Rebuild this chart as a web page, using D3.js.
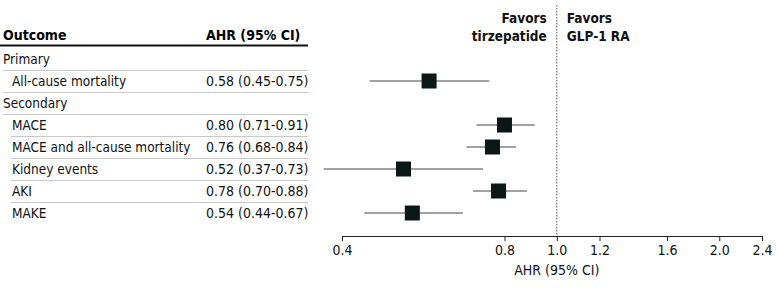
<!DOCTYPE html>
<html>
<head>
<meta charset="utf-8">
<script src="https://cdn.jsdelivr.net/npm/d3@7"></script>
<style>
  body { margin: 0; background: #fff; }
  svg { display: block; font-family: "DejaVu Sans Condensed", "Liberation Sans", sans-serif; }
</style>
</head>
<body>
<div id="chart"></div>
<script>
// rows of the table, top to bottom
const labels = ['Primary', 'All-cause mortality', 'Secondary', 'MACE', 'MACE and all-cause mortality', 'Kidney events', 'AKI', 'MAKE'];
const isGroup = [true, false, true, false, false, false, false, false];
const ahr = [null, 0.58, null, 0.80, 0.76, 0.52, 0.78, 0.54];
const lower = [null, 0.45, null, 0.71, 0.68, 0.37, 0.70, 0.44];
const upper = [null, 0.75, null, 0.91, 0.84, 0.73, 0.88, 0.67];
const ticks = [0.4, 0.8, 1.0, 1.2, 1.6, 2.0, 2.4];

const width = 780, height = 297;
const fmt = d3.format('.2f');
const fs = '14px';

const svg = d3.select('#chart').append('svg')
    .attr('width', width).attr('height', height);

const rowH = 22;
const y0 = 59; // centre of first row
const yRow = (i) => y0 + i * rowH;

const x = d3.scaleLog().domain([0.4, 2.4]).range([342, 762]);
const axisY = 236;

// table header
svg.append('text').attr('x', 3).attr('y', 35).attr('dy', '0.35em')
    .style('font-size', fs).style('font-weight', 'bold').text('Outcome');
svg.append('text').attr('x', 206).attr('y', 35).attr('dy', '0.35em')
    .style('font-size', fs).style('font-weight', 'bold').text('AHR (95% CI)');
svg.append('line').attr('x1', 0).attr('x2', 308).attr('y1', 45.5).attr('y2', 45.5)
    .attr('stroke', '#111').attr('stroke-width', 1.8);

// row separators
labels.slice(0, -1).forEach((_, i) => {
    const ind = i < 3 ? 3 : 11;
    svg.append('line').attr('x1', ind).attr('x2', 308)
        .attr('y1', yRow(i) + 11.5).attr('y2', yRow(i) + 11.5)
        .attr('stroke', '#c8c8c8').attr('stroke-width', 1);
});

// row texts
svg.selectAll('text.lab').data(labels).enter().append('text')
    .attr('class', 'lab')
    .attr('x', (d, i) => isGroup[i] ? 3 : 12)
    .attr('y', (d, i) => yRow(i)).attr('dy', '0.35em')
    .style('font-size', '13.5px').attr('fill', '#111')
    .text((d) => d);

svg.selectAll('text.val').data(ahr).enter().append('text')
    .attr('class', 'val')
    .attr('x', 206).attr('y', (d, i) => yRow(i)).attr('dy', '0.35em')
    .style('font-size', fs).attr('fill', '#111')
    .text((d, i) => d == null ? '' : `${fmt(d)} (${fmt(lower[i])}-${fmt(upper[i])})`);

// reference line at 1
svg.append('line').attr('x1', x(1)).attr('x2', x(1)).attr('y1', 5).attr('y2', axisY)
    .attr('stroke', '#555').attr('stroke-width', 1).attr('stroke-dasharray', '1.5,1.5');

// favors labels
const fav = svg.append('g').style('font-size', '13.5px').style('font-weight', 'bold').attr('fill', '#111');
fav.append('text').attr('x', x(1) - 10).attr('y', 18).attr('dy', '0.35em').attr('text-anchor', 'end').text('Favors');
fav.append('text').attr('x', x(1) - 10).attr('y', 36).attr('dy', '0.35em').attr('text-anchor', 'end').text('tirzepatide');
fav.append('text').attr('x', x(1) + 10).attr('y', 18).attr('dy', '0.35em').text('Favors');
fav.append('text').attr('x', x(1) + 10).attr('y', 36).attr('dy', '0.35em').text('GLP-1 RA');

// CI lines and squares
const pts = ahr.map((d, i) => ({ d, i })).filter((p) => p.d != null);
svg.selectAll('line.ci').data(pts).enter().append('line')
    .attr('class', 'ci')
    .attr('x1', (p) => x(lower[p.i])).attr('x2', (p) => x(upper[p.i]))
    .attr('y1', (p) => yRow(p.i)).attr('y2', (p) => yRow(p.i))
    .attr('stroke', '#444').attr('stroke-width', 1);
const sq = 15;
svg.selectAll('rect.pt').data(pts).enter().append('rect')
    .attr('class', 'pt')
    .attr('x', (p) => x(p.d) - sq / 2).attr('y', (p) => yRow(p.i) - sq / 2)
    .attr('width', sq).attr('height', sq)
    .attr('fill', '#0b1716');

// axis
const ax = svg.append('g').attr('transform', `translate(0,${axisY})`)
    .call(d3.axisBottom(x).tickValues(ticks).tickFormat(d3.format('.1f')).tickSize(5).tickPadding(4));
ax.select('.domain').attr('stroke', '#222');
ax.selectAll('.tick line').attr('stroke', '#222');
ax.selectAll('.tick text').attr('fill', '#111').style('font-size', fs)
    .style('font-family', '"DejaVu Sans Condensed", sans-serif');

svg.append('text').attr('x', x(1)).attr('y', 270).attr('dy', '0.35em')
    .attr('text-anchor', 'middle').style('font-size', fs).attr('fill', '#111')
    .text('AHR (95% CI)');
</script>
</body>
</html>
